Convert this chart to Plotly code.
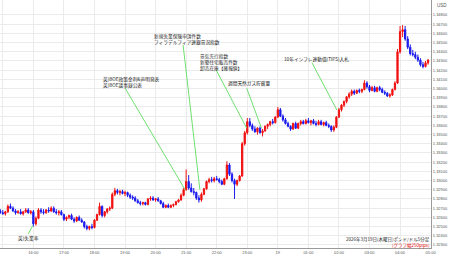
import plotly.graph_objects as go
import pandas as pd

# ---------------- data (GBP/USD 5-minute candles) ----------------
start_time = "2026-03-19 14:55"

opens = [
    1.32670, 1.32650, 1.32640, 1.32660, 1.32720, 1.32700, 1.32670, 1.32650, 1.32660, 1.32640, 1.32660, 1.32680, 1.32650,
    1.32660, 1.32530, 1.32590, 1.32680, 1.32660, 1.32650, 1.32680, 1.32670, 1.32700, 1.32660, 1.32650, 1.32660,
    1.32630, 1.32580, 1.32600, 1.32620, 1.32580, 1.32560, 1.32600, 1.32570, 1.32550, 1.32500, 1.32480, 1.32500,
    1.32490, 1.32570, 1.32630, 1.32720, 1.32620, 1.32660, 1.32690, 1.32700, 1.32850, 1.32890, 1.32870, 1.32880,
    1.32860, 1.32870, 1.32840, 1.32820, 1.32810, 1.32780, 1.32760, 1.32750, 1.32760, 1.32740, 1.32800, 1.32810,
    1.32790, 1.32800, 1.32780, 1.32750, 1.32710, 1.32730, 1.32710, 1.32730, 1.32740, 1.32770, 1.32790, 1.32840,
    1.32900, 1.32990, 1.32920, 1.32880, 1.32870, 1.32810, 1.32790, 1.32850, 1.32910, 1.32990, 1.33010, 1.33000,
    1.33020, 1.33010, 1.32990, 1.32960, 1.33020, 1.33170, 1.33070, 1.33000, 1.32960, 1.33000, 1.33050, 1.33400,
    1.33520, 1.33640, 1.33600, 1.33560, 1.33530, 1.33570, 1.33520, 1.33540, 1.33590, 1.33610, 1.33640, 1.33630,
    1.33690, 1.33770, 1.33700, 1.33660, 1.33620, 1.33590, 1.33560, 1.33620, 1.33570, 1.33620, 1.33640, 1.33620,
    1.33650, 1.33630, 1.33650, 1.33620, 1.33610, 1.33640, 1.33610, 1.33630, 1.33600, 1.33590, 1.33550, 1.33580,
    1.33690, 1.33770, 1.33820, 1.33860, 1.33910, 1.33940, 1.33970, 1.33950, 1.33980, 1.33970, 1.33990, 1.34060,
    1.34020, 1.33980, 1.34010, 1.33970, 1.34010, 1.33990, 1.33960, 1.33950, 1.33920, 1.33930, 1.33990, 1.34060,
    1.34400, 1.34620, 1.34640, 1.34540, 1.34450, 1.34380, 1.34370, 1.34340, 1.34310, 1.34260, 1.34240, 1.34280,
]
highs = [
    1.32690, 1.32680, 1.32670, 1.32740, 1.32750, 1.32720, 1.32690, 1.32680, 1.32690, 1.32670, 1.32700, 1.32700, 1.32680,
    1.32680, 1.32610, 1.32700, 1.32700, 1.32690, 1.32690, 1.32710, 1.32720, 1.32720, 1.32690, 1.32680, 1.32680,
    1.32640, 1.32610, 1.32630, 1.32640, 1.32600, 1.32610, 1.32620, 1.32590, 1.32560, 1.32520, 1.32510, 1.32530,
    1.32580, 1.32640, 1.32760, 1.32730, 1.32670, 1.32700, 1.32720, 1.32870, 1.32920, 1.32910, 1.32900, 1.32900,
    1.32890, 1.32880, 1.32860, 1.32840, 1.32830, 1.32800, 1.32780, 1.32770, 1.32770, 1.32810, 1.32830, 1.32830,
    1.32810, 1.32820, 1.32790, 1.32770, 1.32740, 1.32750, 1.32740, 1.32750, 1.32780, 1.32800, 1.32860, 1.32920,
    1.33120, 1.33060, 1.32970, 1.32920, 1.32880, 1.32840, 1.32870, 1.32920, 1.33000, 1.33030, 1.33040, 1.33040,
    1.33050, 1.33030, 1.33010, 1.33030, 1.33210, 1.33190, 1.33090, 1.33020, 1.33010, 1.33060, 1.33420, 1.33540,
    1.33680, 1.33680, 1.33620, 1.33590, 1.33580, 1.33590, 1.33560, 1.33600, 1.33620, 1.33650, 1.33670, 1.33700,
    1.33800, 1.33790, 1.33720, 1.33680, 1.33640, 1.33600, 1.33630, 1.33640, 1.33630, 1.33660, 1.33660, 1.33670,
    1.33680, 1.33660, 1.33670, 1.33650, 1.33660, 1.33660, 1.33640, 1.33650, 1.33620, 1.33600, 1.33600, 1.33700,
    1.33790, 1.33830, 1.33870, 1.33920, 1.33960, 1.33990, 1.33990, 1.33990, 1.34000, 1.34000, 1.34090, 1.34080,
    1.34040, 1.34030, 1.34030, 1.34020, 1.34030, 1.34010, 1.33980, 1.33960, 1.33950, 1.34000, 1.34080, 1.34430,
    1.34680, 1.34690, 1.34680, 1.34570, 1.34480, 1.34420, 1.34400, 1.34370, 1.34330, 1.34290, 1.34300, 1.34320,
]
lows = [
    1.32640, 1.32630, 1.32620, 1.32650, 1.32690, 1.32660, 1.32630, 1.32640, 1.32630, 1.32620, 1.32650, 1.32640, 1.32630,
    1.32500, 1.32510, 1.32580, 1.32640, 1.32630, 1.32640, 1.32650, 1.32660, 1.32650, 1.32630, 1.32620, 1.32620,
    1.32560, 1.32560, 1.32580, 1.32570, 1.32540, 1.32550, 1.32560, 1.32540, 1.32480, 1.32460, 1.32460, 1.32470,
    1.32480, 1.32560, 1.32620, 1.32600, 1.32600, 1.32640, 1.32670, 1.32690, 1.32830, 1.32850, 1.32840, 1.32850,
    1.32830, 1.32820, 1.32800, 1.32790, 1.32770, 1.32750, 1.32730, 1.32730, 1.32730, 1.32730, 1.32780, 1.32780,
    1.32770, 1.32770, 1.32740, 1.32700, 1.32700, 1.32700, 1.32700, 1.32710, 1.32730, 1.32760, 1.32780, 1.32830,
    1.32890, 1.32900, 1.32870, 1.32840, 1.32790, 1.32760, 1.32770, 1.32840, 1.32900, 1.32970, 1.32980, 1.32980,
    1.33000, 1.32970, 1.32950, 1.32950, 1.33010, 1.33050, 1.32980, 1.32800, 1.32940, 1.32990, 1.33040, 1.33380,
    1.33500, 1.33580, 1.33540, 1.33520, 1.33500, 1.33510, 1.33480, 1.33530, 1.33560, 1.33590, 1.33610, 1.33620,
    1.33680, 1.33690, 1.33640, 1.33610, 1.33580, 1.33540, 1.33550, 1.33560, 1.33560, 1.33600, 1.33610, 1.33610,
    1.33620, 1.33600, 1.33610, 1.33590, 1.33600, 1.33600, 1.33590, 1.33590, 1.33570, 1.33530, 1.33530, 1.33570,
    1.33680, 1.33750, 1.33800, 1.33840, 1.33890, 1.33920, 1.33930, 1.33940, 1.33950, 1.33950, 1.33980, 1.34000,
    1.33960, 1.33970, 1.33960, 1.33960, 1.33970, 1.33950, 1.33930, 1.33910, 1.33900, 1.33920, 1.33980, 1.34050,
    1.34380, 1.34560, 1.34520, 1.34430, 1.34360, 1.34350, 1.34320, 1.34290, 1.34240, 1.34220, 1.34230, 1.34260,
]
closes = [
    1.32650, 1.32640, 1.32660, 1.32720, 1.32700, 1.32670, 1.32650, 1.32660, 1.32640, 1.32660, 1.32680, 1.32650, 1.32660,
    1.32530, 1.32590, 1.32680, 1.32660, 1.32650, 1.32680, 1.32670, 1.32700, 1.32660, 1.32650, 1.32660, 1.32630,
    1.32580, 1.32600, 1.32620, 1.32580, 1.32560, 1.32600, 1.32570, 1.32550, 1.32500, 1.32480, 1.32500, 1.32490,
    1.32570, 1.32630, 1.32720, 1.32620, 1.32660, 1.32690, 1.32700, 1.32850, 1.32890, 1.32870, 1.32880, 1.32860,
    1.32870, 1.32840, 1.32820, 1.32810, 1.32780, 1.32760, 1.32750, 1.32760, 1.32740, 1.32800, 1.32810, 1.32790,
    1.32800, 1.32780, 1.32750, 1.32710, 1.32730, 1.32710, 1.32730, 1.32740, 1.32770, 1.32790, 1.32840, 1.32900,
    1.32990, 1.32920, 1.32880, 1.32870, 1.32810, 1.32790, 1.32850, 1.32910, 1.32990, 1.33010, 1.33000, 1.33020,
    1.33010, 1.32990, 1.32960, 1.33020, 1.33170, 1.33070, 1.33000, 1.32960, 1.33000, 1.33050, 1.33400, 1.33520,
    1.33640, 1.33600, 1.33560, 1.33530, 1.33570, 1.33520, 1.33540, 1.33590, 1.33610, 1.33640, 1.33630, 1.33690,
    1.33770, 1.33700, 1.33660, 1.33620, 1.33590, 1.33560, 1.33620, 1.33570, 1.33620, 1.33640, 1.33620, 1.33650,
    1.33630, 1.33650, 1.33620, 1.33610, 1.33640, 1.33610, 1.33630, 1.33600, 1.33590, 1.33550, 1.33580, 1.33690,
    1.33770, 1.33820, 1.33860, 1.33910, 1.33940, 1.33970, 1.33950, 1.33980, 1.33970, 1.33990, 1.34060, 1.34020,
    1.33980, 1.34010, 1.33970, 1.34010, 1.33990, 1.33960, 1.33950, 1.33920, 1.33930, 1.33990, 1.34060, 1.34400,
    1.34620, 1.34640, 1.34540, 1.34450, 1.34380, 1.34370, 1.34340, 1.34310, 1.34260, 1.34240, 1.34280, 1.34310,
]

hour_ticks = [
    "2026-03-19 15:00", "2026-03-19 16:00", "2026-03-19 17:00", "2026-03-19 18:00", "2026-03-19 19:00",
    "2026-03-19 20:00", "2026-03-19 21:00", "2026-03-19 22:00", "2026-03-19 23:00", "2026-03-20 00:00",
    "2026-03-20 01:00", "2026-03-20 02:00", "2026-03-20 03:00", "2026-03-20 04:00", "2026-03-20 05:00",
]
hour_labels = ["15:00", "16:00", "17:00", "18:00", "19:00", "20:00", "21:00", "22:00", "23:00", "19",
               "01:00", "02:00", "03:00", "04:00", "05:00"]

price_ticks = [
    1.323, 1.324, 1.325, 1.326, 1.327, 1.328, 1.329, 1.330, 1.331, 1.332, 1.333, 1.334, 1.335,
    1.336, 1.337, 1.338, 1.339, 1.340, 1.341, 1.342, 1.343, 1.344, 1.345, 1.346, 1.347, 1.348,
]

event_labels = [
    "英)失業率",
    "英)BOE政策金利&声明発表<br>英)BOE議事録公表",
    "新規失業保険申請件数<br>フィラデルフィア連銀景況指数",
    "景気先行指数<br>新築住宅販売件数<br>卸売在庫【確報値】",
    "週間天然ガス貯蔵量",
    "10年インフレ連動債(TIPS)入札",
]
caption = "2026年3月19日(木曜日)ポンド/ドル5分足"
caption_sub = "(グラフ幅250pips)"

# ---------------- layout helpers (positions of labels / leader lines) ----------------
label_pos = [  # (x, y, xanchor, yanchor)
    ("2026-03-19 15:51", 1.32365, "center", "middle"),
    ("2026-03-19 18:15", 1.34150, "left", "top"),
    ("2026-03-19 19:55", 1.34615, "left", "top"),
    ("2026-03-19 21:26", 1.34400, "left", "top"),
    ("2026-03-19 22:20", 1.34055, "left", "middle"),
    ("2026-03-20 00:10", 1.34318, "left", "middle"),
]
leader_lines = [  # (x0, y0, x1, y1)
    ("2026-03-19 15:50", 1.32420, "2026-03-19 15:59", 1.32512),
    ("2026-03-19 19:00", 1.34006, "2026-03-19 20:58", 1.32900),
    ("2026-03-19 20:54", 1.34474, "2026-03-19 21:27", 1.32898),
    ("2026-03-19 21:59", 1.34202, "2026-03-19 22:59", 1.33568),
    ("2026-03-19 22:59", 1.34003, "2026-03-19 23:28", 1.33568),
    ("2026-03-20 01:07", 1.34281, "2026-03-20 01:56", 1.33767),
]

times = pd.date_range(start_time, periods=len(closes), freq="5min")

fig = go.Figure()
fig.add_trace(go.Candlestick(
    x=times, open=opens, high=highs, low=lows, close=closes,
    increasing=dict(line=dict(color="#f01010", width=1), fillcolor="#f01010"),
    decreasing=dict(line=dict(color="#1a1aee", width=1), fillcolor="#1a1aee"),
    whiskerwidth=0, showlegend=False, hoverinfo="skip",
))

label_font = dict(family="Noto Sans CJK JP", size=4.7, color="#222222")
annotations = []
for text, (lx, ly, xa, ya) in zip(event_labels, label_pos):
    annotations.append(dict(x=lx, y=ly, xref="x", yref="y", text=text, showarrow=False,
                            xanchor=xa, yanchor=ya, align="left", font=label_font, borderpad=0))
shapes = []
for (x0, y0, x1, y1) in leader_lines:
    shapes.append(dict(type="line", xref="x", yref="y", x0=x0, y0=y0, x1=x1, y1=y1,
                       line=dict(color="#6ee06e", width=1)))

annotations.append(dict(x=1, y=0.033, xref="paper", yref="paper", text=caption, showarrow=False,
                        xanchor="right", yanchor="middle",
                        font=dict(family="Noto Sans CJK JP", size=4.5, color="#222222"), borderpad=0))
annotations.append(dict(x=1, y=0.012, xref="paper", yref="paper", text=caption_sub, showarrow=False,
                        xanchor="right", yanchor="middle",
                        font=dict(family="Noto Sans CJK JP", size=4.5, color="#e01010"), borderpad=0))
annotations.append(dict(x=1.012, y=0.99, xref="paper", yref="paper", text="USD", showarrow=False,
                        xanchor="left", yanchor="top",
                        font=dict(family="Liberation Sans", size=4.5, color="#555555"), borderpad=0))

fig.update_layout(
    width=450, height=258,
    margin=dict(l=0, r=19, t=0, b=10),
    paper_bgcolor="white", plot_bgcolor="white",
    annotations=annotations, shapes=shapes,
    xaxis=dict(
        type="date", range=["2026-03-19 14:54:30", "2026-03-20 05:00:45"],
        rangeslider=dict(visible=False),
        tickmode="array", tickvals=hour_ticks, ticktext=hour_labels,
        showgrid=True, gridcolor="#ebebeb", gridwidth=1,
        showline=True, linecolor="#9a9a9a", linewidth=1,
        ticks="", tickfont=dict(family="Liberation Sans", size=4, color="#555555"),
        zeroline=False,
    ),
    yaxis=dict(
        side="right", range=[1.32267, 1.34963],
        tickmode="array", tickvals=price_ticks, tickformat=".5f",
        showgrid=True, gridcolor="#ebebeb", gridwidth=1,
        showline=True, linecolor="#9a9a9a", linewidth=1,
        ticks="", tickfont=dict(family="Liberation Sans", size=4, color="#555555"),
        zeroline=False,
    ),
)

fig.write_html("out.html")
